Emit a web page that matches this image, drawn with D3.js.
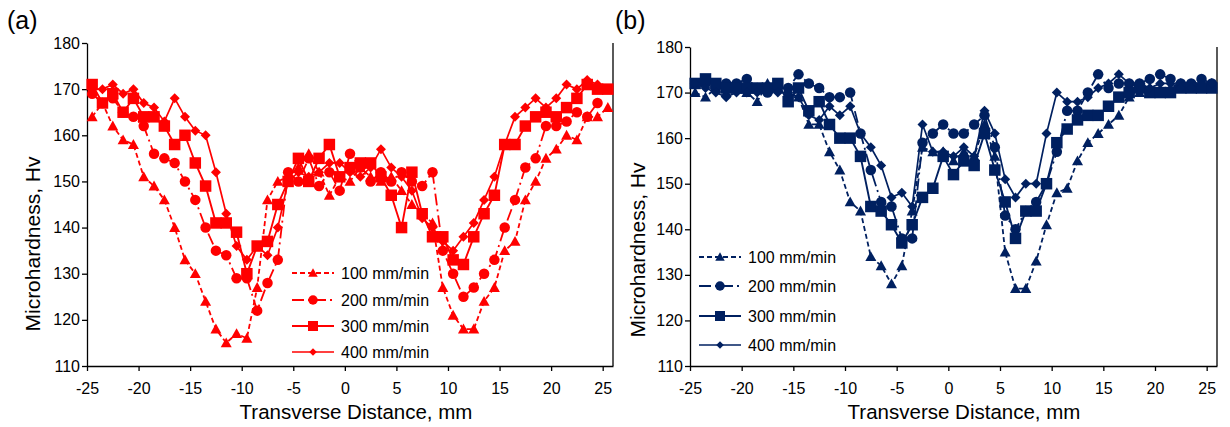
<!DOCTYPE html>
<html>
<head>
<meta charset="utf-8">
<script src="https://cdn.jsdelivr.net/npm/d3@7"></script>
<style>
  body { margin: 0; background: #fff; }
  svg text { font-family: "Liberation Sans", Arial, sans-serif; fill: #000; }
</style>
</head>
<body>
<svg id="chart" width="1230" height="427"></svg>
<script>
// ---------- DATA ----------
const distances = [-24.5,-23.5,-22.5,-21.5,-20.5,-19.5,-18.5,-17.5,-16.5,-15.5,-14.5,-13.5,-12.5,-11.5,-10.5,-9.5,-8.5,-7.5,-6.5,-5.5,-4.5,-3.5,-2.5,-1.5,-0.5,0.5,1.5,2.5,3.5,4.5,5.5,6.5,7.5,8.5,9.5,10.5,11.5,12.5,13.5,14.5,15.5,16.5,17.5,18.5,19.5,20.5,21.5,22.5,23.5,24.5,25.5];
const seriesNames = ["100 mm/min", "200 mm/min", "300 mm/min", "400 mm/min"];
const xTicks = [-25,-20,-15,-10,-5,0,5,10,15,20,25];
const yTicks = [110,120,130,140,150,160,170,180];

// Panel (a)
const a100 = [164,167,162,159,158,151,149,146,140,133,130,124,118,115,117,116,127,146,150,151,153,156,152,147,151,150,153,151,150,151,148,145,143,141,127,121,118,118,124,127,135,137,146,150,155,157,160,159,164,164,166];
const a200 = [169,167,168,165,164,162,156,155,154,150,146,140,135,134,129,129,122,128,133,152,150,155,149,152,148,156,153,150,152,150,152,150,149,152,135,130,125,127,130,133,140,146,153,155,162,162,163,165,164,167,null];
const a300 = [171,167,169,165,168,164,164,162,158,160,154,149,141,141,139,130,136,137,145,150,155,150,155,158,151,153,154,154,151,147,140,152,143,138,138,133,132,138,143,147,158,158,162,164,165,164,166,168,171,170,170];
const a400 = [170,170,171,169,170,167,166,163,168,164,161,160,152,143,136,133,136,134,140,150,152,151,152,154,154,152,151,153,157,153,151,148,142,140,137,135,138,141,146,151,158,164,166,168,166,168,171,170,172,171,null];

// Panel (b)
const b100 = [170,169,171,170,171,170,168,172,171,170,169,163,163,157,153,146,144,134,132,128,132,144,158,157,157,155,157,156,163,156,135,127,127,133,141,148,149,155,159,161,163,165,169,170,171,170,171,172,171,172,172];
const b200 = [172,172,171,172,172,173,171,170,171,171,174,172,171,169,169,170,161,153,146,145,138,138,159,161,163,161,161,163,165,158,143,140,144,146,150,157,166,166,170,174,171,172,172,172,173,174,173,172,172,173,172];
const b300 = [172,173,172,171,171,171,171,171,172,168,171,166,168,163,160,160,156,145,144,141,137,141,147,149,156,152,155,154,161,153,146,138,144,144,150,159,162,164,165,165,167,169,170,171,170,170,170,171,171,171,171];
const b400 = [172,171,170,169,170,170,170,171,170,170,169,165,164,167,165,167,161,158,154,147,148,145,163,157,157,156,158,156,166,161,151,147,150,150,161,170,168,168,169,171,172,174,172,172,171,172,172,171,171,172,172];

// ---------- STYLE ----------
const styles = [
  { marker: "triangle", dash: "5,3", width: 1.8 },
  { marker: "circle", dash: "12,4,2,4", width: 1.8 },
  { marker: "square", dash: null, width: 1.9 },
  { marker: "diamond", dash: null, width: 1.7 }
];

const svg = d3.select("#chart");

function markerPath(type, s) {
  const h = s / 2;
  if (type === "triangle") return `M0,${-h}L${h},${h*0.8}L${-h},${h*0.8}Z`;
  if (type === "square") return `M${-h},${-h}H${h}V${h}H${-h}Z`;
  if (type === "diamond") return `M0,${-h}L${h},0L0,${h}L${-h},0Z`;
  return d3.symbol(d3.symbolCircle, Math.PI * h * h)();
}
const markerSize = { triangle: 11, circle: 10.5, square: 11.5, diamond: 10 };
const legendMarkerSize = { triangle: 9.5, circle: 9.5, square: 10, diamond: 7.5 };

function drawPanel(cfg) {
  const g = svg.append("g");
  const x = d3.scaleLinear().domain([-25, 26]).range([cfg.left, cfg.right]);
  const y = d3.scaleLinear().domain([110, 180]).range([cfg.bottom, cfg.top]);

  const xAxis = d3.axisBottom(x).tickValues(xTicks).tickSize(5).tickSizeOuter(0).tickFormat(d3.format("d"));
  const yAxis = d3.axisLeft(y).tickValues(yTicks).tickSize(5).tickSizeOuter(0);
  const gx = g.append("g").attr("transform", `translate(0,${cfg.bottom})`).call(xAxis);
  const gy = g.append("g").attr("transform", `translate(${cfg.left},0)`).call(yAxis);
  [gx, gy].forEach(ax => {
    ax.select(".domain").attr("stroke", "#000").attr("stroke-width", 1.3);
    ax.selectAll(".tick line").attr("stroke", "#000").attr("stroke-width", 1.3);
    ax.selectAll(".tick text").attr("font-size", 16).attr("fill", "#000")
      .attr("font-family", '"Liberation Sans", Arial, sans-serif');
  });
  gx.selectAll(".tick text").attr("dy", 0).attr("y", 28).text(d => d3.format("d")(d).replace("−", "-"));
  gy.selectAll(".tick text").attr("x", -7);
  g.append("line").attr("x1", cfg.right).attr("x2", cfg.right).attr("y1", cfg.top).attr("y2", cfg.bottom)
    .attr("stroke", "#000").attr("stroke-width", 1.3);

  cfg.series.forEach((vals, i) => {
    const st = styles[i];
    const pts = distances.map((d, k) => ({ x: d, y: vals[k] })).filter(p => p.y != null);
    const line = d3.line().x(p => x(p.x)).y(p => y(p.y));
    g.append("path").datum(pts).attr("d", line).attr("fill", "none")
      .attr("stroke", cfg.color).attr("stroke-width", st.width)
      .attr("stroke-dasharray", st.dash);
    g.append("g").selectAll("path").data(pts).join("path")
      .attr("transform", p => `translate(${x(p.x)},${y(p.y)})`)
      .attr("d", markerPath(st.marker, markerSize[st.marker]))
      .attr("fill", cfg.color);
  });

  seriesNames.forEach((name, i) => {
    const st = styles[i];
    const ly = cfg.legendY[i];
    const lg = g.append("g");
    lg.append("line").attr("x1", cfg.legendX).attr("x2", cfg.legendX + 42)
      .attr("y1", ly).attr("y2", ly).attr("stroke", cfg.color).attr("stroke-width", st.width)
      .attr("stroke-dasharray", st.dash);
    lg.append("path").attr("transform", `translate(${cfg.legendX + 21},${ly})`)
      .attr("d", markerPath(st.marker, legendMarkerSize[st.marker])).attr("fill", cfg.color);
    lg.append("text").attr("x", cfg.legendX + 49).attr("y", ly + 6).attr("font-size", 16).text(name);
  });

  g.append("text").attr("x", cfg.xTitleX).attr("y", 419).attr("text-anchor", "middle")
    .attr("font-size", 20.5).text("Transverse Distance, mm");
  g.append("text").attr("transform", `translate(${cfg.yTitleX},${cfg.yTitleY}) rotate(-90)`)
    .attr("text-anchor", "middle").attr("font-size", 21).text("Microhardness, Hv");
  g.append("text").attr("x", cfg.labelX).attr("y", 29).attr("font-size", 25).text(cfg.label);
}

drawPanel({
  left: 87, right: 613, top: 43, bottom: 366, color: "#ff0000",
  series: [a100, a200, a300, a400],
  legendX: 292, legendY: [273, 300, 326, 352],
  xTitleX: 356, yTitleX: 40, yTitleY: 244, labelX: 7, label: "(a)"
});
drawPanel({
  left: 690, right: 1217, top: 47, bottom: 366, color: "#002060",
  series: [b100, b200, b300, b400],
  legendX: 699, legendY: [257, 286, 316, 345],
  xTitleX: 964, yTitleX: 645, yTitleY: 250, labelX: 615, label: "(b)"
});
</script>
</body>
</html>
